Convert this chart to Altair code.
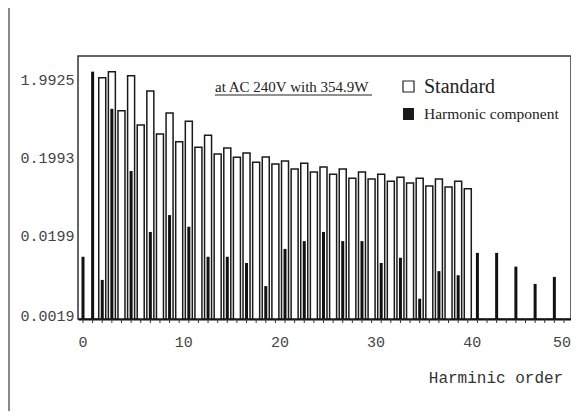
import altair as alt
import pandas as pd

# ---- data ----
std_orders = list(range(2, 41))
std_values = [2.13, 2.55, 0.80, 2.26, 0.525, 1.44, 0.405, 0.75, 0.32, 0.59,
              0.273, 0.39, 0.223, 0.267, 0.203, 0.23, 0.175, 0.204, 0.166, 0.181,
              0.143, 0.170, 0.131, 0.152, 0.123, 0.143, 0.109, 0.131, 0.107, 0.123,
              0.100, 0.112, 0.095, 0.109, 0.087, 0.107, 0.084, 0.100, 0.080]

harm_orders = [0, 1, 2, 3, 5, 7, 9, 11, 13, 15, 17, 19, 21, 23, 25, 27, 29,
               31, 33, 35, 37, 39, 41, 43, 45, 47, 49]
harm_values = [0.0107, 2.55, 0.0054, 0.85, 0.135, 0.0223, 0.0367, 0.026, 0.0107,
               0.0107, 0.0089, 0.0045, 0.0135, 0.017, 0.0223, 0.017, 0.017, 0.0089,
               0.0104, 0.0031, 0.0070, 0.0062, 0.012, 0.012, 0.0080, 0.0048, 0.0059]

x_ticks = [0, 10, 20, 30, 40, 50]
minor_ticks = list(range(0, 51))
y_ticks = [0.0019, 0.0199, 0.1993, 1.9925]

note_text = "at AC 240V with 354.9W"
legend_labels = ["Standard", "Harmonic component"]
x_title = "Harminic order"

W, H = 493, 263
Y_MIN, Y_MAX = 0.0017, 4.05
MONO = "Liberation Mono"
SERIF = "Liberation Serif"

std_df = pd.DataFrame({"order": std_orders, "value": std_values})
harm_df = pd.DataFrame({"order": harm_orders, "value": harm_values})

xscale = alt.Scale(domain=[-0.52, 50.73], nice=False, zero=False, padding=0)
yscale = alt.Scale(type="log", domain=[Y_MIN, Y_MAX], nice=False)

std_bars = alt.Chart(std_df).mark_bar(
    width=7, fill="white", stroke="#1a1a1a", strokeWidth=1.5
).encode(
    x=alt.X("order:Q", scale=xscale, title=None,
            axis=alt.Axis(values=x_ticks, ticks=False, labels=False,
                          domainColor="#111", domainWidth=2, grid=False)),
    y=alt.Y("value:Q", scale=yscale, title=None,
            axis=alt.Axis(values=y_ticks, format=".4f", ticks=False, domain=False,
                          labelPadding=4, labelFont=MONO, labelFontSize=15,
                          labelColor="#444", grid=False, labelBaseline="middle")),
    y2=alt.datum(Y_MIN),
)

harm_bars = alt.Chart(harm_df).mark_bar(width=3, fill="#111").encode(
    x=alt.X("order:Q", scale=xscale),
    y=alt.Y("value:Q", scale=yscale),
    y2=alt.datum(Y_MIN),
)

tick_df = pd.DataFrame({"order": minor_ticks})
minor = alt.Chart(tick_df).mark_rule(color="#333", strokeWidth=1).encode(
    x=alt.X("order:Q", scale=xscale),
    y=alt.value(H),
    y2=alt.value(H + 4),
)

# x tick labels (last one pulled inside the drawing edge)
xl_df = pd.DataFrame({"order": x_ticks[:-1], "lab": [str(v) for v in x_ticks[:-1]]})
xl_last_df = pd.DataFrame({"order": x_ticks[-1:], "lab": [str(v) for v in x_ticks[-1:]]})
xlabels = alt.Chart(xl_df).mark_text(
    font=MONO, fontSize=15, color="#444", align="left", baseline="middle", dx=-4.5
).encode(x=alt.X("order:Q", scale=xscale), y=alt.value(286), text="lab:N")
xlabel_last = alt.Chart(xl_last_df).mark_text(
    font=MONO, fontSize=15, color="#444", align="right", baseline="middle", dx=7
).encode(x=alt.X("order:Q", scale=xscale), y=alt.value(286), text="lab:N")

title_df = pd.DataFrame({"t": [x_title]})
title = alt.Chart(title_df).mark_text(
    font=MONO, fontSize=16, color="#333", align="center", baseline="middle"
).encode(text="t:N", x=alt.value(418), y=alt.value(322))

note_df = pd.DataFrame({"t": [note_text]})
note = alt.Chart(note_df).mark_text(
    font=SERIF, fontSize=15, color="#222", align="left", baseline="alphabetic"
).encode(text="t:N", x=alt.value(137), y=alt.value(36))
underline = alt.Chart(note_df).mark_rule(color="#222", strokeWidth=1).encode(
    x=alt.value(137), x2=alt.value(294), y=alt.value(39)
)

leg_std_box = alt.Chart(note_df).mark_rect(
    fill="white", stroke="#222", strokeWidth=1.2
).encode(x=alt.value(325), x2=alt.value(336), y=alt.value(25), y2=alt.value(36))
leg_harm_box = alt.Chart(note_df).mark_rect(fill="#1a1a1a").encode(
    x=alt.value(325), x2=alt.value(336), y=alt.value(52), y2=alt.value(64)
)
leg1_df = pd.DataFrame({"t": [legend_labels[0]]})
leg2_df = pd.DataFrame({"t": [legend_labels[1]]})
leg1 = alt.Chart(leg1_df).mark_text(
    font=SERIF, fontSize=20, color="#222", align="left", baseline="alphabetic"
).encode(text="t:N", x=alt.value(346), y=alt.value(37))
leg2 = alt.Chart(leg2_df).mark_text(
    font=SERIF, fontSize=15.5, color="#222", align="left", baseline="alphabetic"
).encode(text="t:N", x=alt.value(346), y=alt.value(63))

# outer figure border lines
left_border = alt.Chart(note_df).mark_rule(color="#888", strokeWidth=2).encode(
    x=alt.value(-69), y=alt.value(-48), y2=alt.value(H + 92)
)
right_border = alt.Chart(note_df).mark_rule(color="#888", strokeWidth=2).encode(
    x=alt.value(W + 1), y=alt.value(-48), y2=alt.value(H)
)

chart = alt.layer(
    std_bars, harm_bars, minor, xlabels, xlabel_last, title, note, underline,
    leg_std_box, leg_harm_box, leg1, leg2, left_border, right_border
).properties(
    width=W, height=H,
    padding={"left": 70, "top": 48, "right": 0, "bottom": 92},
    autosize=alt.AutoSizeParams(type="none"),
    background="white",
).configure_view(stroke="#333", strokeWidth=1.5)

chart.save("out.html", embed_options={"renderer": "svg", "actions": False})
